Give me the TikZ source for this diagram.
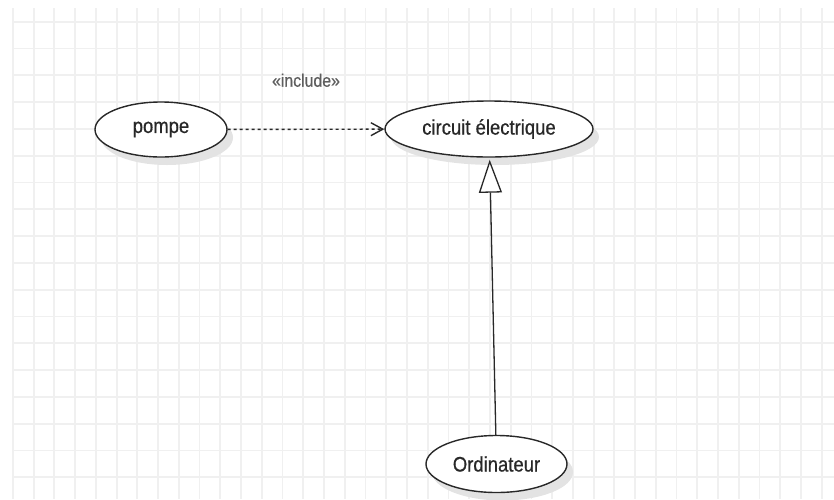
\documentclass[tikz,border=0pt]{standalone}
\usepackage{fontspec}
\setmainfont{Liberation Sans}[FakeStretch=0.88, FakeBold=0.6]
\usepackage{tikz}
\usetikzlibrary{arrows.meta,shapes.geometric,shadows}
\definecolor{gridgray}{RGB}{240,240,240}
\definecolor{inkgray}{RGB}{40,40,40}

\begin{document}
\begin{tikzpicture}[x=1pt, y=-1pt,
    usecase/.style={draw=inkgray, ellipse, fill=white, line width=1.4pt, inner sep=0pt,
        font=\fontsize{21}{24}\selectfont, text=inkgray,
        drop shadow={shadow xshift=6pt, shadow yshift=-8pt, fill=black!11, opacity=1}},
    include/.style={draw=inkgray, line width=1.4pt, dash pattern=on 3pt off 3pt,
        -{Straight Barb[length=12pt, width=13pt, line width=1.4pt]}},
    generalize/.style={draw=inkgray, line width=1.3pt, shorten >=2pt,
        -{Triangle[length=33pt, width=23pt, fill=white, line width=1.3pt]}}]
    \useasboundingbox (0,0) rectangle (834,499);

    % Grid
    \foreach \i in {0,...,39}
        \draw[gridgray, line width=1.8pt] ({12.9+20.74*\i},8) -- ({12.9+20.74*\i},499);
    \foreach \j in {0,...,17}
        \draw[gridgray, line width=1.8pt] (12,{21.7+26.8*\j}) -- (834,{21.7+26.8*\j});

    % Use cases
    \node[usecase, minimum width=132pt, minimum height=55pt] (pompe) at (161,129.5) {pompe};
    \node[usecase, minimum width=208pt, minimum height=56pt] (circuit) at (489,129) {circuit électrique};
    \node[usecase, minimum width=141pt, minimum height=57pt] (ordi) at (496.5,464) {Ordinateur};

    % Relations
    \draw[include] (pompe) -- node[midway, yshift=49pt, text=inkgray!75, font=\fontsize{18}{21}\selectfont] {«include»} (circuit);
    \draw[generalize] (ordi) -- (circuit);
\end{tikzpicture}
\end{document}
